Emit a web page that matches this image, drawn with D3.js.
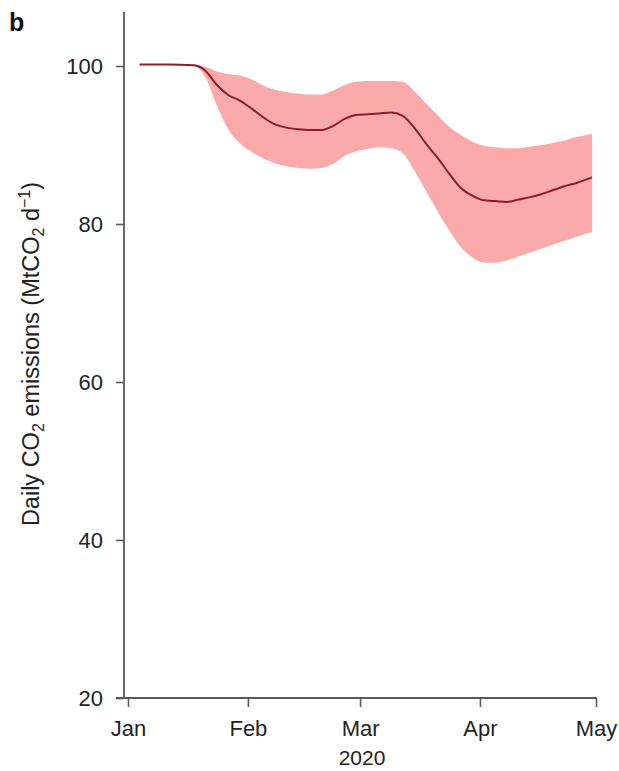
<!DOCTYPE html>
<html>
<head>
<meta charset="utf-8">
<script src="https://cdn.jsdelivr.net/npm/d3@7"></script>
<style>
  html, body { margin: 0; padding: 0; background: #fff; }
  svg { display: block; font-family: "Liberation Sans", Arial, Helvetica, sans-serif; }
</style>
</head>
<body>
<svg id="chart" width="619" height="771"></svg>
<script>
// ---- data ----
const dates = ["2020-01-04","2020-01-11","2020-01-18","2020-01-21","2020-01-24","2020-01-27","2020-01-30",
  "2020-02-02","2020-02-05","2020-02-08","2020-02-11","2020-02-14","2020-02-17","2020-02-20","2020-02-23",
  "2020-02-26","2020-02-29","2020-03-03","2020-03-06","2020-03-09","2020-03-12","2020-03-15","2020-03-18",
  "2020-03-21","2020-03-24","2020-03-27","2020-03-30","2020-04-02","2020-04-05","2020-04-08","2020-04-11",
  "2020-04-14","2020-04-17","2020-04-20","2020-04-23","2020-04-26","2020-04-30"];
const meanValues = [100.2,100.2,100.1,99.4,97.6,96.3,95.6,
  94.6,93.5,92.6,92.2,92.0,91.9,91.9,92.4,
  93.3,93.8,93.9,94.0,94.1,93.7,92.2,90.2,
  88.4,86.4,84.6,83.6,83.0,82.9,82.8,83.1,
  83.4,83.8,84.3,84.8,85.2,85.9];
const upperValues = [100.2,100.2,100.2,99.9,99.3,99.0,98.8,
  98.3,97.5,97.0,96.7,96.5,96.4,96.4,96.9,
  97.6,98.0,98.1,98.1,98.1,98.0,96.8,95.3,
  93.8,92.3,91.3,90.4,89.9,89.7,89.6,89.6,
  89.8,90.0,90.3,90.6,91.0,91.4];
const lowerValues = [100.2,100.2,100.0,98.6,95.0,91.9,90.2,
  89.1,88.3,87.7,87.3,87.1,87.0,87.1,87.6,
  88.6,89.2,89.5,89.7,89.6,89.0,86.8,84.2,
  81.6,79.2,77.1,75.8,75.1,75.1,75.4,75.9,
  76.4,76.9,77.4,77.9,78.4,79.0];
const yTicks = [20, 40, 60, 80, 100];
const xTickDates = ["2020-01-01","2020-02-01","2020-03-01","2020-04-01","2020-05-01"];
const xTickLabels = ["Jan","Feb","Mar","Apr","May"];
const xAxisTitle = "2020";
const panelLabel = "b";

// ---- build ----
const parse = d3.timeParse("%Y-%m-%d");
const data = dates.map((d, i) => ({date: parse(d), mean: meanValues[i], hi: upperValues[i], lo: lowerValues[i]}));
const xTicks = xTickDates.map(parse);

const svg = d3.select("#chart");
const axisX0 = 124, axisTop = 12;

const x = d3.scaleTime().domain([xTicks[0], xTicks[xTicks.length - 1]]).range([128, 596]);
const y = d3.scaleLinear().domain([20, 100]).range([698, 66]);

// band
svg.append("path")
  .datum(data)
  .attr("fill", "#fbaaab")
  .attr("d", d3.area().curve(d3.curveMonotoneX)
    .x(d => x(d.date)).y0(d => y(d.lo)).y1(d => y(d.hi)));

// mean line
svg.append("path")
  .datum(data)
  .attr("fill", "none")
  .attr("stroke", "#8c1c2c")
  .attr("stroke-width", 2)
  .attr("d", d3.line().curve(d3.curveMonotoneX).x(d => x(d.date)).y(d => y(d.mean)));

const axisColor = "#5a5a5a";

// y axis
const gy = svg.append("g").attr("transform", `translate(${axisX0},0)`)
  .call(d3.axisLeft(y).tickValues(yTicks).tickSize(8).tickPadding(13).tickFormat(d3.format("d")));
gy.select(".domain").remove();
gy.selectAll(".tick line").attr("stroke", axisColor).attr("stroke-width", 1.6);
gy.selectAll(".tick text").attr("font-size", 22).attr("fill", "#222")
  .attr("font-family", "'Liberation Sans', Arial, sans-serif");
svg.append("line").attr("x1", axisX0).attr("x2", axisX0).attr("y1", axisTop).attr("y2", y(20))
  .attr("stroke", axisColor).attr("stroke-width", 1.8);

// x axis
const gx = svg.append("g").attr("transform", `translate(0,${y(20)})`)
  .call(d3.axisBottom(x).tickValues(xTicks).tickSize(9).tickPadding(13)
    .tickFormat((d, i) => xTickLabels[i]));
gx.select(".domain").remove();
gx.selectAll(".tick line").attr("stroke", axisColor).attr("stroke-width", 1.6);
gx.selectAll(".tick text").attr("font-size", 22).attr("fill", "#222")
  .attr("font-family", "'Liberation Sans', Arial, sans-serif");
svg.append("line").attr("x1", axisX0 - 8).attr("x2", x(xTicks[xTicks.length - 1]) + 0.8)
  .attr("y1", y(20)).attr("y2", y(20))
  .attr("stroke", axisColor).attr("stroke-width", 1.8);

// x title
svg.append("text").attr("x", (x(xTicks[0]) + x(xTicks[4])) / 2).attr("y", 765)
  .attr("text-anchor", "middle").attr("font-size", 21).attr("fill", "#222").text(xAxisTitle);

// y title
const yt = svg.append("text")
  .attr("transform", "translate(39,354) rotate(-90)")
  .attr("text-anchor", "middle").attr("font-size", 23.5).attr("fill", "#222");
yt.append("tspan").text("Daily CO");
yt.append("tspan").attr("font-size", 16).attr("dy", 5).text("2");
yt.append("tspan").attr("dy", -5).text(" emissions (MtCO");
yt.append("tspan").attr("font-size", 16).attr("dy", 5).text("2");
yt.append("tspan").attr("dy", -5).text(" d");
yt.append("tspan").attr("font-size", 16).attr("dy", -9).text("\u22121");
yt.append("tspan").attr("dy", 9).text(")");

// panel label
svg.append("text").attr("x", 9).attr("y", 31).attr("font-size", 25).attr("font-weight", "bold")
  .attr("fill", "#111").text(panelLabel);
</script>
</body>
</html>
